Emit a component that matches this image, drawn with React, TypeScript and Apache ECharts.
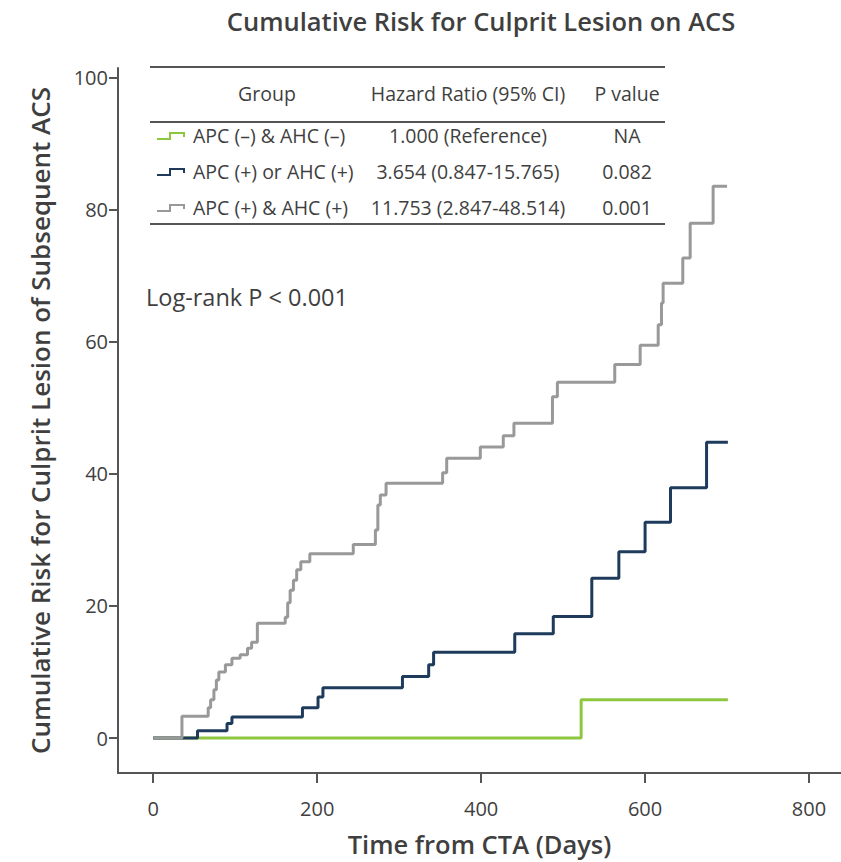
import React, { useEffect, useRef } from "react";
import * as echarts from "echarts";

const chartTitle = "Cumulative Risk for Culprit Lesion on ACS";
const xTitle = "Time from CTA (Days)";
const yTitle = "Cumulative Risk for Culprit Lesion of Subsequent ACS";
const xTicks = [0, 200, 400, 600, 800];
const yTicks = [0, 20, 40, 60, 80, 100];

const groupNames = ["APC (–) & AHC (–)", "APC (+) or AHC (+)", "APC (+) & AHC (+)"];
const hazardRatios = ["1.000 (Reference)", "3.654 (0.847-15.765)", "11.753 (2.847-48.514)"];
const pValues = ["NA", "0.082", "0.001"];
const tableHeaders = ["Group", "Hazard Ratio (95% CI)", "P value"];
const logRankText = "Log-rank P < 0.001";

const greenDays = [0, 522, 701];
const greenRisk = [0, 5.8, 5.8];

const blueDays = [0, 54, 90, 96, 182, 201, 207, 304, 336, 342, 441, 488, 535, 568, 600, 631, 675, 701];
const blueRisk = [0, 1.1, 2.2, 3.2, 4.6, 6.2, 7.6, 9.3, 11.1, 13.0, 15.8, 18.4, 24.2, 28.2, 32.7, 37.9, 44.8, 44.8];

const grayDays = [0, 35, 67, 70, 74, 77, 80, 88, 96, 106, 115, 120, 127, 161, 164, 167, 171, 175, 180, 191, 244, 271, 274, 277, 284, 353, 358, 399, 427, 440, 487, 493, 563, 594, 616, 620, 622, 646, 655, 683, 700];
const grayRisk = [0, 3.3, 4.6, 5.8, 7.3, 8.8, 10.0, 11.1, 12.1, 12.6, 13.6, 14.5, 17.4, 18.3, 20.5, 22.4, 23.9, 25.5, 26.7, 27.9, 29.3, 31.5, 35.3, 36.8, 38.6, 40.2, 42.4, 44.1, 45.8, 47.7, 51.7, 53.9, 56.6, 59.5, 62.6, 65.9, 68.9, 72.7, 78.0, 83.6, 83.6];

const seriesColors = ["#8dc63f", "#1f3b5c", "#999999"];
const FONT = "'Open Sans', 'Noto Sans', sans-serif";
const TEXT = "#3f3f3f";

function zip(xs: number[], ys: number[]) {
  return xs.map((x, i) => [x, ys[i]]);
}

export default function App() {
  const ref = useRef<HTMLDivElement>(null);
  useEffect(() => {
    if (!ref.current) return;
    const chart = echarts.init(ref.current, null, { renderer: "svg" });

    const tableLeft = 150;
    const tableRight = 665;
    const colCenters = [267, 468, 627];
    const rowYs = [135, 171, 207];
    const TF = `19.5px ${FONT}`;
    const graphics: any[] = [];
    graphics.push({
      type: "text",
      x: 481,
      y: 21,
      style: { text: chartTitle, font: `600 25.5px ${FONT}`, fill: TEXT, textAlign: "center", textVerticalAlign: "middle" },
    });
    [67, 122, 224].forEach((y) => {
      graphics.push({
        type: "line",
        shape: { x1: tableLeft, y1: y, x2: tableRight, y2: y },
        style: { stroke: "#555555", lineWidth: 2 },
      });
    });
    tableHeaders.forEach((h, i) => {
      graphics.push({
        type: "text",
        x: colCenters[i],
        y: 93,
        style: { text: h, font: TF, fill: TEXT, textAlign: "center", textVerticalAlign: "middle" },
      });
    });
    groupNames.forEach((g, i) => {
      const y = rowYs[i];
      graphics.push({
        type: "polyline",
        shape: { points: [[157, y + 4], [170, y + 4], [170, y - 2], [184, y - 2], [184, y + 2]] },
        style: { stroke: seriesColors[i], lineWidth: 2, fill: "none" },
      });
      graphics.push({
        type: "text",
        x: 193,
        y,
        style: { text: g, font: TF, fill: TEXT, textAlign: "left", textVerticalAlign: "middle" },
      });
      graphics.push({
        type: "text",
        x: colCenters[1],
        y,
        style: { text: hazardRatios[i], font: TF, fill: TEXT, textAlign: "center", textVerticalAlign: "middle" },
      });
      graphics.push({
        type: "text",
        x: colCenters[2],
        y,
        style: { text: pValues[i], font: TF, fill: TEXT, textAlign: "center", textVerticalAlign: "middle" },
      });
    });
    graphics.push({
      type: "text",
      x: 146,
      y: 297,
      style: { text: logRankText, font: `23.5px ${FONT}`, fill: TEXT, textAlign: "left", textVerticalAlign: "middle" },
    });

    const mk = (data: number[][], color: string, z: number) => ({
      type: "line",
      step: "end",
      data,
      showSymbol: false,
      symbol: "none",
      z,
      lineStyle: { color, width: 3 },
      itemStyle: { color },
    });

    chart.setOption({
      animation: false,
      backgroundColor: "#ffffff",
      grid: { left: 118, top: 68, width: 723, height: 705, containLabel: false, outerBoundsMode: "none" },
      xAxis: {
        type: "value",
        min: -43,
        max: 839,
        name: xTitle,
        nameLocation: "middle",
        nameGap: 58,
        nameTextStyle: { fontFamily: FONT, fontSize: 25.5, fontWeight: 600, color: TEXT },
        axisLine: { show: true, onZero: false, lineStyle: { color: "#555555", width: 2 } },
        axisTick: { show: true, customValues: xTicks, length: 10, lineStyle: { color: "#555555", width: 2 } },
        axisLabel: { customValues: xTicks, margin: 25, fontFamily: FONT, fontSize: 20, color: TEXT },
        splitLine: { show: false },
      },
      yAxis: {
        type: "value",
        min: -5.3,
        max: 101.5,
        name: yTitle,
        nameLocation: "middle",
        nameGap: 65,
        nameRotate: 90,
        nameTextStyle: { fontFamily: FONT, fontSize: 26, fontWeight: 600, color: TEXT },
        axisLine: { show: true, onZero: false, lineStyle: { color: "#555555", width: 2 } },
        axisTick: { show: true, customValues: yTicks, length: 9, lineStyle: { color: "#555555", width: 2 } },
        axisLabel: { customValues: yTicks, margin: 10, fontFamily: FONT, fontSize: 20, color: TEXT },
        splitLine: { show: false },
      },
      series: [
        mk(zip(greenDays, greenRisk), seriesColors[0], 2),
        mk(zip(blueDays, blueRisk), seriesColors[1], 3),
        mk(zip(grayDays, grayRisk), seriesColors[2], 4),
      ],
      graphic: graphics,
    });
    return () => chart.dispose();
  }, []);
  return (
    <div
      ref={ref}
      style={{ position: "fixed", left: 0, top: 0, width: 841, height: 862, background: "#fff" }}
    />
  );
}
